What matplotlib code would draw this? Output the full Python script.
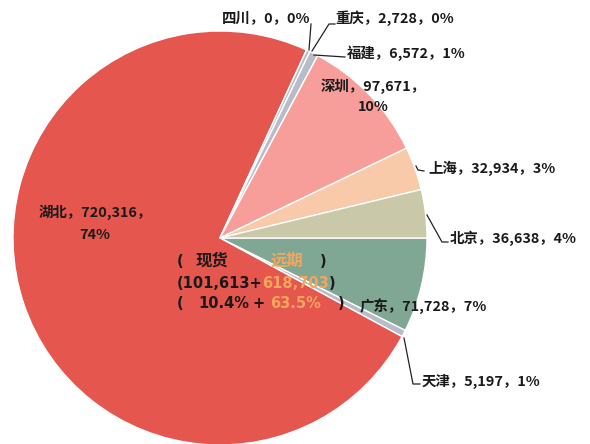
import matplotlib
matplotlib.use("Agg")
import matplotlib.pyplot as plt

plt.rcParams['font.family'] = ['Noto Sans CJK SC', 'DejaVu Sans']

# 数据（顺时针，从广东开始）
regions = ['广东', '天津', '湖北', '四川', '重庆', '福建', '深圳', '上海', '北京']
amounts = [71728, 5197, 720316, 0, 2728, 6572, 97671, 32934, 36638]
colors = ['#7FA793', '#B7BCC6', '#E4564E', '#B7BCC6', '#B7BCC6', '#B7BCC6',
          '#F79E9A', '#F8CAAA', '#C9C8A9']

spot_label = '现货'
forward_label = '远期'
spot_amount = '101,613'
forward_amount = '618,703'
spot_pct = '10.4%'
forward_pct = '63.5%'

W, H = 590, 444
fig = plt.figure(figsize=(W / 100, H / 100), dpi=100)
ax = fig.add_axes([0, 0, 1, 1])

cx, cy, r = 220, H - 238, 207
ax.pie(amounts, colors=colors, startangle=0, counterclock=False,
       center=(cx, cy), radius=r, frame=True,
       wedgeprops=dict(edgecolor='white', linewidth=1.0))
ax.set_xlim(0, W)
ax.set_ylim(0, H)
ax.set_aspect('equal')
ax.axis('off')

total = sum(amounts)
vals = dict(zip(regions, amounts))
pcts = {n: round(v / total * 100) for n, v in vals.items()}

fs = 10.4
kw = dict(fontsize=fs, fontweight='bold', color='#1a1a1a', va='center')


def y(v):
    return H - v


def full(n):
    return f'{n}，{vals[n]:,}，{pcts[n]}%'


# 外部标签
ax.text(222, y(18), full('四川'), ha='left', **kw)
ax.text(335, y(18), full('重庆'), ha='left', **kw)
ax.text(347, y(53), full('福建'), ha='left', **kw)
ax.text(321, y(86), f'深圳，{vals["深圳"]:,}，', ha='left', **kw)
ax.text(373, y(107), f'{pcts["深圳"]}%', ha='center', **kw)
ax.text(428, y(168), full('上海'), ha='left', **kw)
ax.text(450, y(238), full('北京'), ha='left', **kw)
ax.text(360, y(306), full('广东'), ha='left', **kw)
ax.text(422, y(381), full('天津'), ha='left', **kw)
ax.text(39, y(212), f'湖北，{vals["湖北"]:,}，', ha='left', **kw)
ax.text(95, y(235), f'{pcts["湖北"]}%', ha='center', **kw)

# 引导线
lk = dict(color='#222222', lw=0.9)
ax.plot([311, 309], [y(24), y(50)], **lk)
ax.plot([335, 329, 312], [y(24), y(24), y(51)], **lk)
ax.plot([314, 345], [y(55), y(57)], **lk)
ax.plot([416, 418, 424], [y(166), y(170), y(171)], **lk)
ax.plot([427, 442, 448], [y(215), y(242), y(242)], **lk)
ax.plot([404, 413, 420], [y(338), y(384), y(384)], **lk)

# 中间说明文字（拉丁字符用较宽的 DejaVu）
orange = '#F3A65C'
ckw = dict(fontsize=10.5, fontweight='bold', color='#1a1a1a', va='center',
           ha='left', family=['DejaVu Sans', 'Noto Sans CJK SC'])
cokw = dict(ckw, color=orange)
zkw = dict(ckw, fontsize=11.8, family=['Noto Sans CJK SC', 'DejaVu Sans'])
zokw = dict(zkw, color=orange)
ax.text(177, y(261), '(', **ckw)
ax.text(196, y(261), spot_label, **zkw)
ax.text(271, y(261), forward_label, **zokw)
ax.text(320, y(261), ')', **ckw)

ax.text(177, y(283), '(' + spot_amount + '+', **ckw)
ax.text(262, y(283), forward_amount, **cokw)
ax.text(329, y(283), ')', **ckw)

ax.text(177, y(303), '(', **ckw)
ax.text(198, y(303), spot_pct, **ckw)
ax.text(252, y(303), '+', **ckw)
ax.text(270, y(303), forward_pct, **cokw)
ax.text(338, y(303), ')', **ckw)

fig.savefig('out.png', dpi=100)
